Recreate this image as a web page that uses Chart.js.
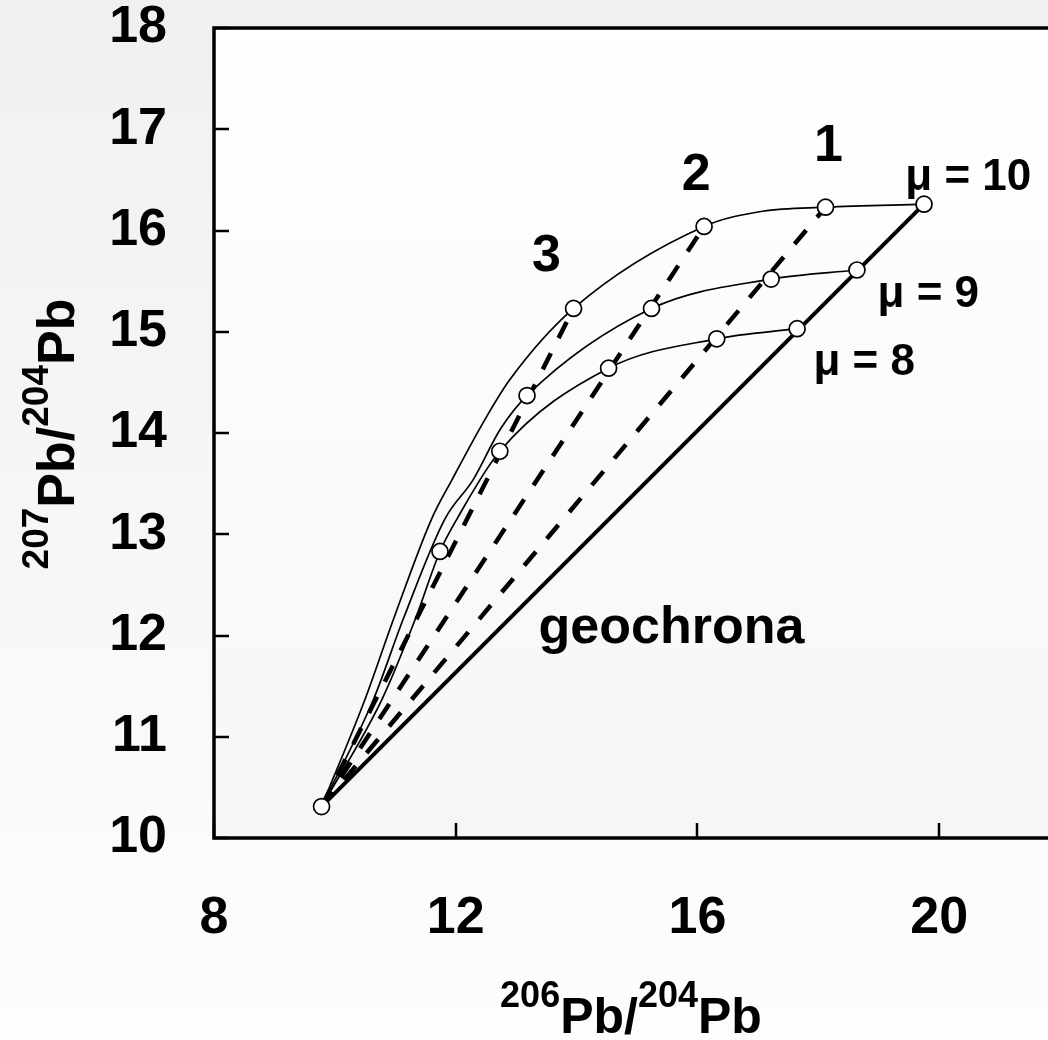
<!DOCTYPE html>
<html>
<head>
<meta charset="utf-8">
<script src="https://cdn.jsdelivr.net/npm/chart.js@4.4.0/dist/chart.umd.min.js"></script>
<style>
html,body{margin:0;padding:0;overflow:hidden;background:#f4f4f4;}
#wrap{position:relative;width:1075px;height:1040px;}
</style>
</head>
<body>
<div id="wrap"><canvas id="c" width="1075" height="1040" style="width:1075px;height:1040px"></canvas></div>
<script>
// primordial lead
const originPt = [9.78, 10.31];

// age marks on each growth curve (3, 2, 1, 0 Ga)
const mu10Marks = [[13.95, 15.23], [16.11, 16.04], [18.12, 16.23], [19.75, 16.26]];
const mu9Marks  = [[13.18, 14.37], [15.24, 15.23], [17.22, 15.52], [18.64, 15.61]];
const mu8Marks  = [[11.74, 12.83], [12.73, 13.82], [14.53, 14.64], [16.32, 14.93], [17.65, 15.03]];

// points read along the growth curves between the marks
const mu10Path = [[10.50, 11.37], [10.97, 12.16], [11.60, 13.15], [11.94, 13.54], [12.49, 14.14], [12.90, 14.53], [17.08, 16.19]];
const mu9Path  = [[10.64, 11.37], [11.13, 12.16], [11.82, 13.15], [12.29, 13.54], [12.74, 14.04]];
const mu8Path  = [[10.78, 11.37], [11.33, 12.16], [12.02, 13.15]];

const xTicks = [8, 12, 16, 20];
const yTicks = [10, 11, 12, 13, 14, 15, 16, 17, 18];

const FONT = "'Liberation Sans', Arial, sans-serif";

function pt(p){ return {x: p[0], y: p[1]}; }
function curve(path, marks){
    return [originPt, ...path, ...marks].map(pt).sort((a, b) => a.x - b.x);
}
function isochron(end){ return [pt(originPt), pt(end)]; }

const markers = [originPt, ...mu10Marks, ...mu9Marks, ...mu8Marks].map(pt);

function growth(data){
    return {data: data, showLine: true, borderColor: '#000', borderWidth: 1.7,
            pointRadius: 0, cubicInterpolationMode: 'monotone'};
}
function dashed(data){
    return {data: data, showLine: true, borderColor: '#000', borderWidth: 4.5,
            borderDash: [18, 17], pointRadius: 0};
}

// text drawn over the plot, anchored in data units
const notes = [
    {t: '1', x: 18.17, y: 16.69, size: 52, align: 'center'},
    {t: '2', x: 15.98, y: 16.40, size: 52, align: 'center'},
    {t: '3', x: 13.50, y: 15.60, size: 52, align: 'center'},
    {t: 'μ = 10', x: 19.44, y: 16.40, size: 44, align: 'left'},
    {t: 'μ = 9', x: 18.98, y: 15.24, size: 44, align: 'left'},
    {t: 'μ = 8', x: 17.92, y: 14.57, size: 44, align: 'left'},
    {t: 'geochrona', x: 15.57, y: 11.93, size: 52, align: 'center'}
];

// label like 206Pb/204Pb with raised mass numbers
function isoLabel(ctx, parts, cx, base, big, small){
    ctx.textBaseline = 'alphabetic';
    ctx.textAlign = 'left';
    let w = 0;
    parts.forEach(p => { ctx.font = 'bold ' + (p.sup ? small : big) + 'px ' + FONT; w += ctx.measureText(p.s).width; });
    let x = cx - w / 2;
    parts.forEach(p => {
        ctx.font = 'bold ' + (p.sup ? small : big) + 'px ' + FONT;
        ctx.fillText(p.s, x, p.sup ? base - 26 : base);
        x += ctx.measureText(p.s).width;
    });
}

const decor = {
    id: 'decor',
    beforeDraw(chart){
        const {ctx, chartArea: a, width, height} = chart;
        ctx.save();
        let g = ctx.createLinearGradient(0, 0, 0, height);
        g.addColorStop(0, '#f0f0f0');
        g.addColorStop(1, '#fdfdfd');
        ctx.fillStyle = g;
        ctx.fillRect(0, 0, width, height);
        g = ctx.createLinearGradient(0, a.top, 0, a.bottom);
        g.addColorStop(0, '#ffffff');
        g.addColorStop(1, '#f6f6f6');
        ctx.fillStyle = g;
        ctx.fillRect(a.left, a.top, a.right - a.left, a.bottom - a.top);
        ctx.restore();
    },
    afterDraw(chart){
        const {ctx, chartArea: a, scales: {x, y}} = chart;
        ctx.save();
        ctx.strokeStyle = '#000';
        // inward ticks
        ctx.lineWidth = 2.5;
        ctx.beginPath();
        yTicks.forEach(v => { const py = Math.round(y.getPixelForValue(v)); ctx.moveTo(a.left, py); ctx.lineTo(a.left + 15, py); });
        xTicks.forEach(v => { const px = Math.round(x.getPixelForValue(v)); ctx.moveTo(px, a.bottom); ctx.lineTo(px, a.bottom - 15); });
        ctx.stroke();
        // frame
        ctx.lineWidth = 3.5;
        ctx.strokeRect(a.left, a.top, a.right - a.left, a.bottom - a.top);

        ctx.fillStyle = '#000';
        notes.forEach(n => {
            ctx.font = 'bold ' + n.size + 'px ' + FONT;
            ctx.textAlign = n.align;
            ctx.textBaseline = 'alphabetic';
            ctx.fillText(n.t, x.getPixelForValue(n.x), y.getPixelForValue(n.y));
        });

        isoLabel(ctx, [{s: '206', sup: true}, {s: 'Pb/'}, {s: '204', sup: true}, {s: 'Pb'}], 631, 1033, 50, 36);
        ctx.translate(74, 434);
        ctx.rotate(-Math.PI / 2);
        isoLabel(ctx, [{s: '207', sup: true}, {s: 'Pb/'}, {s: '204', sup: true}, {s: 'Pb'}], 0, 0, 52, 37);
        ctx.restore();
    }
};

const tickFont = {family: FONT, weight: 'bold', size: 52};

new Chart(document.getElementById('c'), {
    type: 'scatter',
    data: {
        datasets: [
            {data: markers, pointRadius: 8, pointBackgroundColor: '#fff', pointBorderColor: '#000', pointBorderWidth: 1.7},
            growth(curve(mu10Path, mu10Marks)),
            growth(curve(mu9Path, mu9Marks)),
            growth(curve(mu8Path, mu8Marks)),
            dashed(isochron(mu10Marks[2])),
            dashed(isochron(mu10Marks[1])),
            dashed(isochron(mu10Marks[0])),
            {data: isochron(mu10Marks[3]), showLine: true, borderColor: '#000', borderWidth: 4, pointRadius: 0}
        ]
    },
    options: {
        responsive: false,
        animation: false,
        layout: {padding: {left: 0, top: 28, right: 15, bottom: 0}},
        plugins: {legend: {display: false}, tooltip: {enabled: false}},
        scales: {
            x: {
                type: 'linear', min: 8, max: 22,
                grid: {display: false, drawTicks: false},
                border: {display: false},
                ticks: {stepSize: 4, includeBounds: false, padding: 49, color: '#000', font: tickFont},
                afterFit(s){ s.height = 202; s.paddingLeft = 0; s.paddingRight = 0; }
            },
            y: {
                type: 'linear', min: 10, max: 18,
                grid: {display: false, drawTicks: false},
                border: {display: false},
                ticks: {stepSize: 1, padding: 47, color: '#000', font: tickFont},
                afterFit(s){ s.width = 214; s.paddingTop = 0; s.paddingBottom = 0; }
            }
        }
    },
    plugins: [decor]
});
</script>
</body>
</html>
